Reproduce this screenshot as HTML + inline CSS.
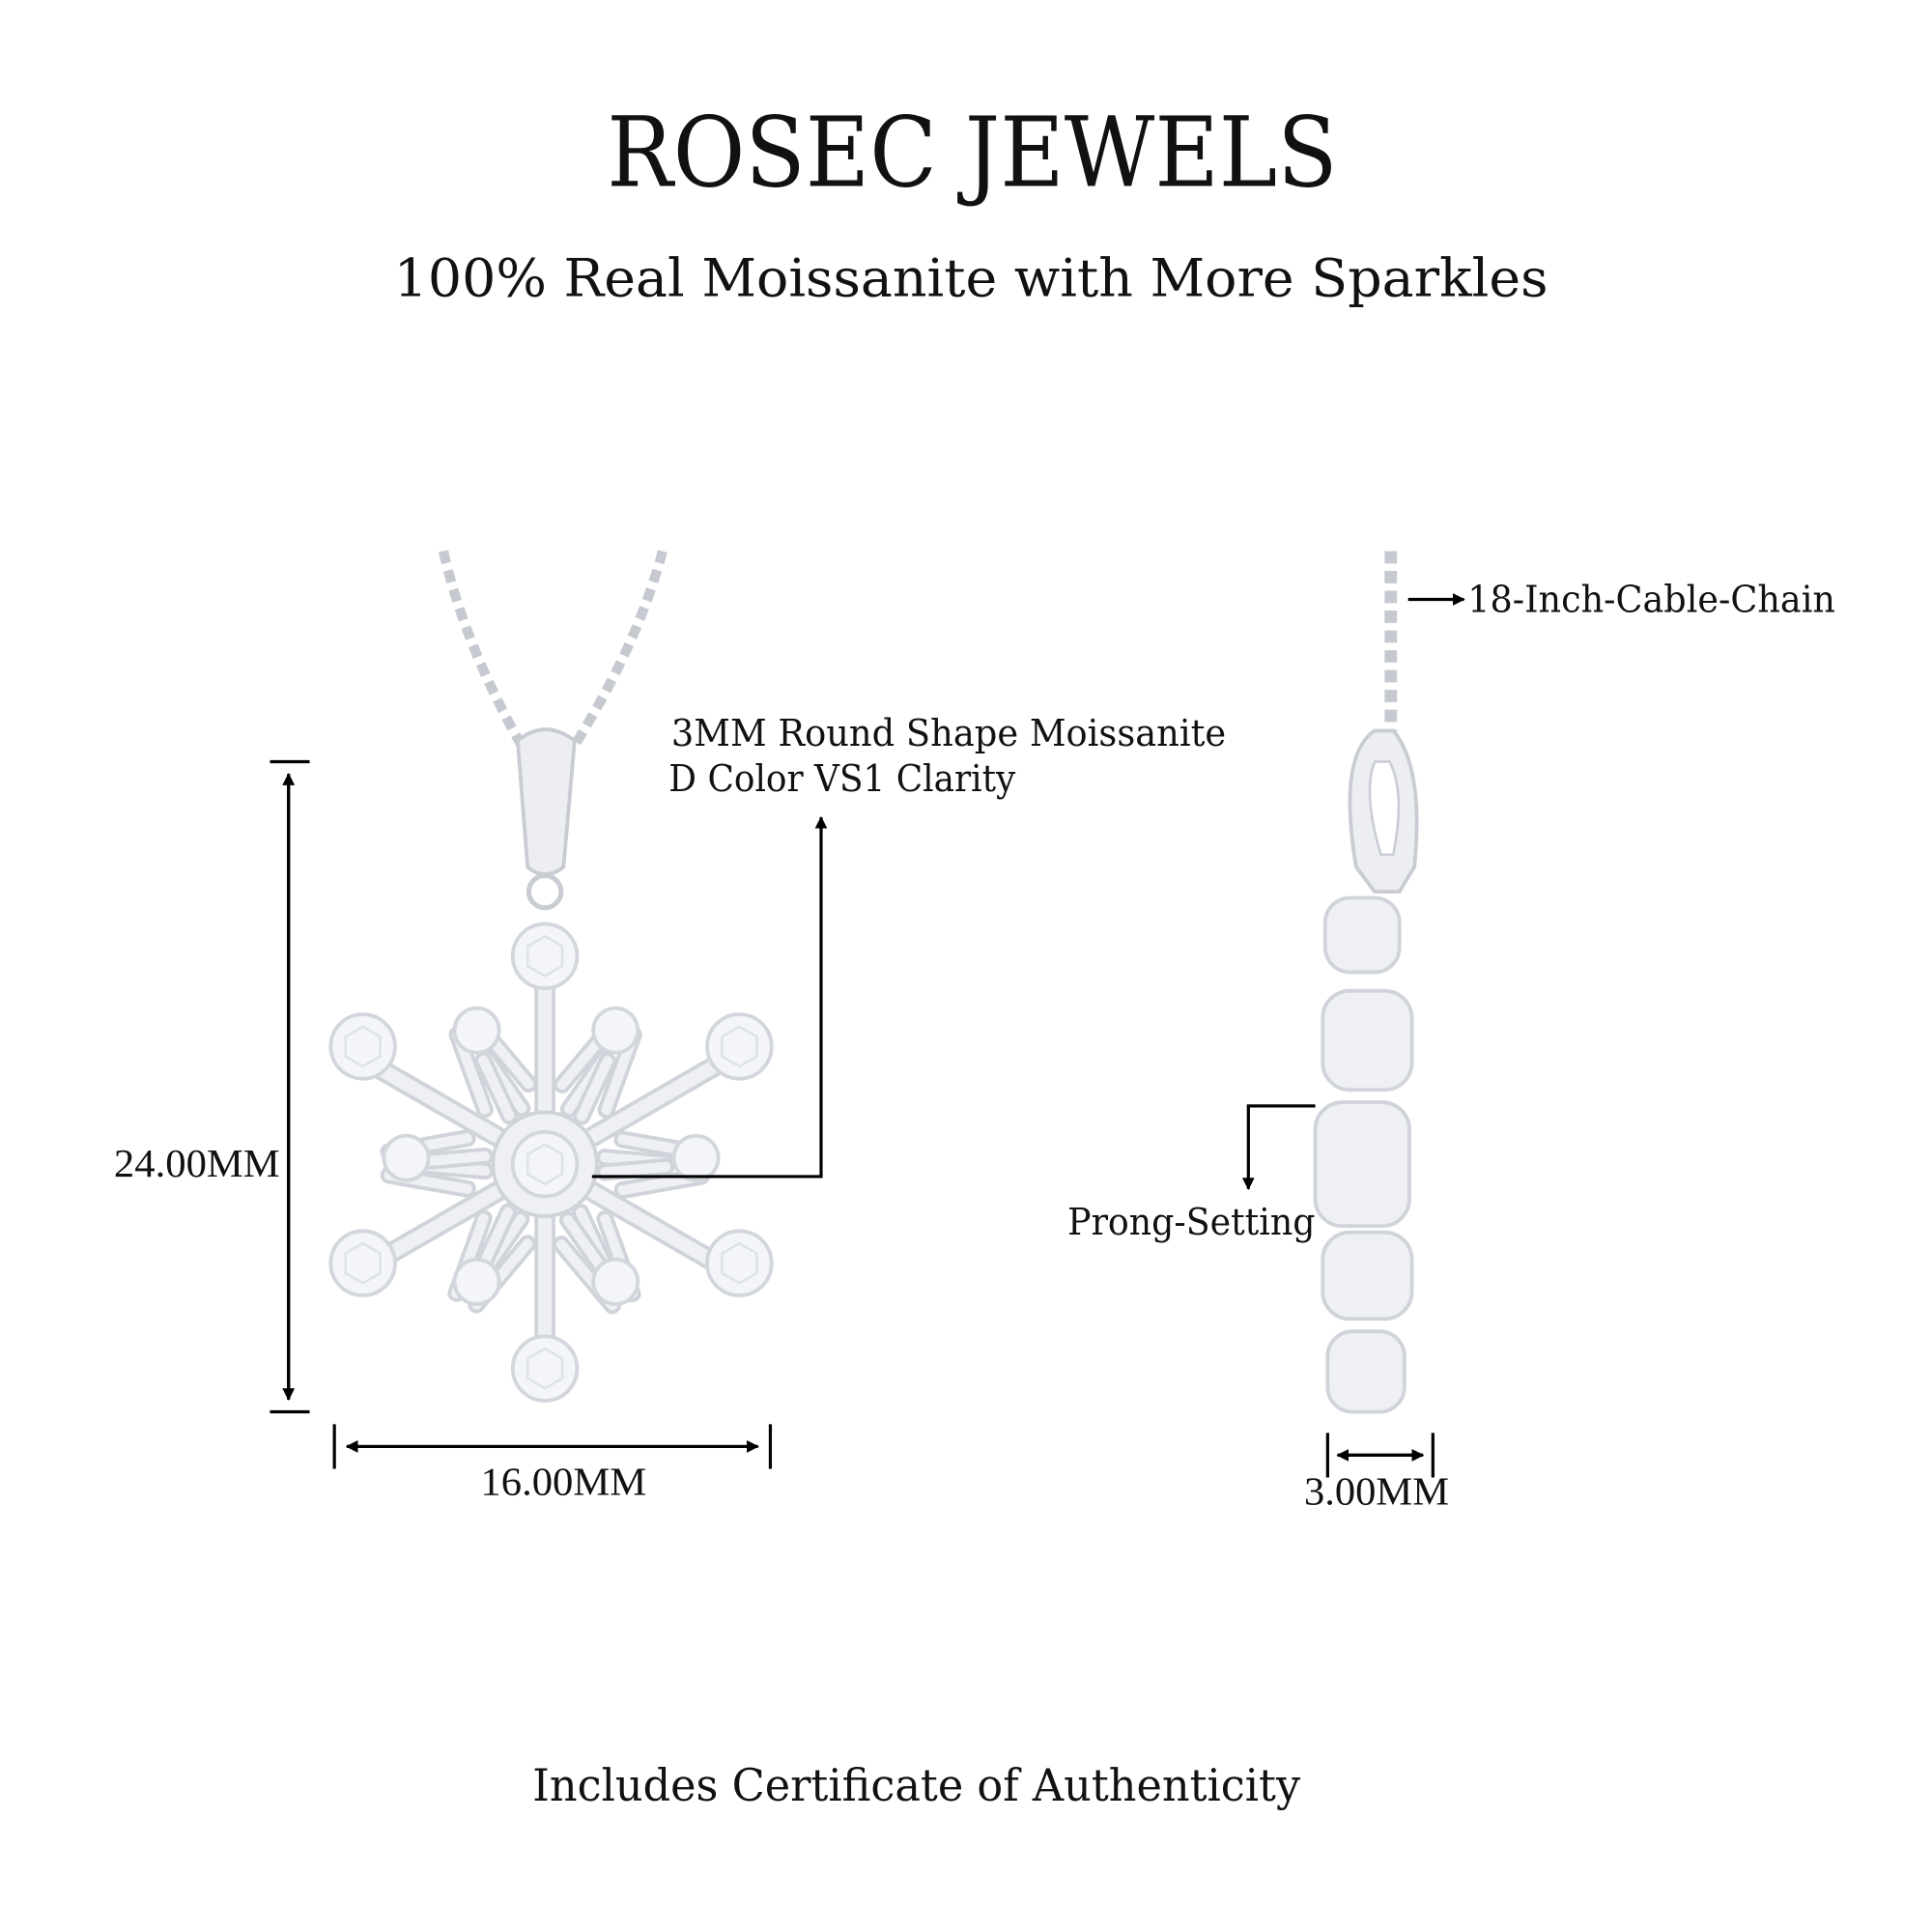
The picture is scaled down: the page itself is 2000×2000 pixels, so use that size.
<!DOCTYPE html>
<html><head><style>html,body{margin:0;padding:0;background:#fff}svg{display:block}</style></head><body>
<svg width="2000" height="2000" viewBox="0 0 1560 1560" xmlns="http://www.w3.org/2000/svg" font-family="'DejaVu Serif', 'Liberation Serif', serif">
<rect width="1560" height="1560" fill="#fff"/>
<defs>
<marker id="ah" markerWidth="10" markerHeight="10" refX="9" refY="5" orient="auto" markerUnits="userSpaceOnUse"><path d="M0,0 L10,5 L0,10 z" fill="#000"/></marker>
<g id="gem"><circle r="26" fill="#f3f5f8" stroke="#d3d7dd" stroke-width="3"/><path d="M-14,-8 L0,-16 L14,-8 L14,8 L0,16 L-14,8 z" fill="none" stroke="#dfe3e8" stroke-width="2"/></g>
<g id="sgem"><circle r="18" fill="#f3f5f8" stroke="#d3d7dd" stroke-width="3"/></g>
</defs>
<text x="785" y="150" font-size="78" text-anchor="middle" textLength="590" lengthAdjust="spacingAndGlyphs" fill="#111">ROSEC JEWELS</text>
<text x="784" y="239" font-size="42" text-anchor="middle" textLength="932" lengthAdjust="spacingAndGlyphs" fill="#111">100% Real Moissanite with More Sparkles</text>

<g fill="none" stroke="#c6cad0" stroke-width="3">
<path d="M358,445 Q375,520 420,600" stroke-dasharray="10 6" stroke-width="8"/>
<path d="M535,445 Q515,520 465,600" stroke-dasharray="10 6" stroke-width="8"/>
<path d="M1123,445 L1123,625" stroke-dasharray="10 6" stroke-width="10"/>
</g>
<path d="M418,598 Q440,580 464,598 L455,700 Q440,712 426,700 Z" fill="#eceef1" stroke="#c9cdd3" stroke-width="3"/>
<circle cx="440" cy="720" r="13" fill="none" stroke="#c9cdd3" stroke-width="4"/>
<g transform="translate(440,940)" stroke="#d0d4da" fill="#eef0f3">
<g id="arm">
<rect x="-7" y="-170" width="14" height="130" rx="5" stroke-width="3"/>
<rect x="-5" y="-150" width="11" height="75" rx="5" transform="rotate(-40 0 -95) translate(-30,0)" stroke-width="3"/>
<rect x="-5" y="-150" width="11" height="75" rx="5" transform="rotate(40 0 -95) translate(30,0)" stroke-width="3"/>
<rect x="-5" y="-115" width="11" height="60" rx="5" transform="rotate(-35 0 -70) translate(-30,0)" stroke-width="3"/>
<rect x="-5" y="-115" width="11" height="60" rx="5" transform="rotate(35 0 -70) translate(30,0)" stroke-width="3"/>
</g>
<use href="#arm" transform="rotate(60)"/><use href="#arm" transform="rotate(120)"/><use href="#arm" transform="rotate(180)"/><use href="#arm" transform="rotate(240)"/><use href="#arm" transform="rotate(300)"/>
<circle r="42" stroke-width="3"/>
</g>
<use href="#gem" x="440" y="940"/>
<use href="#gem" x="440" y="772"/><use href="#gem" x="440" y="1105"/>
<use href="#gem" x="293" y="845"/><use href="#gem" x="597" y="845"/>
<use href="#gem" x="293" y="1020"/><use href="#gem" x="597" y="1020"/>
<use href="#sgem" x="385" y="832"/><use href="#sgem" x="497" y="832"/>
<use href="#sgem" x="328" y="935"/><use href="#sgem" x="562" y="935"/>
<use href="#sgem" x="385" y="1035"/><use href="#sgem" x="497" y="1035"/>

<path d="M1110,590 Q1080,610 1095,700 L1110,720 L1130,720 L1142,700 Q1150,620 1125,590 Z" fill="#eceef1" stroke="#c9cdd3" stroke-width="3"/>
<path d="M1110,615 Q1100,640 1115,690 L1125,690 Q1135,640 1122,615 Z" fill="#fff" stroke="#c9cdd3" stroke-width="2"/>
<g fill="#eef0f3" stroke="#d0d4da" stroke-width="3">
<rect x="1070" y="725" width="60" height="60" rx="20"/>
<rect x="1068" y="800" width="72" height="80" rx="22"/>
<rect x="1062" y="890" width="76" height="100" rx="22"/>
<rect x="1068" y="995" width="72" height="70" rx="22"/>
<rect x="1072" y="1075" width="62" height="65" rx="20"/>
</g>

<g stroke="#000" stroke-width="2.5" fill="none">
<line x1="218" y1="615" x2="250" y2="615"/><line x1="218" y1="1140" x2="250" y2="1140"/>
<line x1="233" y1="1130" x2="233" y2="625" marker-end="url(#ah)"/>
<line x1="233" y1="625" x2="233" y2="1130" marker-end="url(#ah)"/>
<line x1="270" y1="1150" x2="270" y2="1186"/><line x1="622" y1="1150" x2="622" y2="1186"/>
<line x1="280" y1="1168" x2="612" y2="1168" marker-end="url(#ah)"/>
<line x1="612" y1="1168" x2="280" y2="1168" marker-end="url(#ah)"/>
<polyline points="478,950 663,950 663,660" marker-end="url(#ah)"/>
<line x1="1137" y1="484" x2="1182" y2="484" marker-end="url(#ah)"/>
<polyline points="1062,893 1008,893 1008,960" marker-end="url(#ah)"/>
<line x1="1072" y1="1157" x2="1072" y2="1193"/><line x1="1157" y1="1157" x2="1157" y2="1193"/>
<line x1="1080" y1="1175" x2="1149" y2="1175" marker-end="url(#ah)"/>
<line x1="1149" y1="1175" x2="1080" y2="1175" marker-end="url(#ah)"/>
</g>
<g fill="#111" font-size="30">
<text x="92" y="950" font-family="'Liberation Serif', serif" font-size="32" textLength="134" lengthAdjust="spacingAndGlyphs">24.00MM</text>
<text x="388" y="1207" font-family="'Liberation Serif', serif" font-size="32" textLength="134" lengthAdjust="spacingAndGlyphs">16.00MM</text>
<text x="542" y="602" textLength="448" lengthAdjust="spacingAndGlyphs">3MM Round Shape Moissanite</text>
<text x="540" y="639" textLength="280" lengthAdjust="spacingAndGlyphs">D Color VS1 Clarity</text>
<text x="1185" y="494" textLength="297" lengthAdjust="spacingAndGlyphs">18-Inch-Cable-Chain</text>
<text x="862" y="997" textLength="200" lengthAdjust="spacingAndGlyphs">Prong-Setting</text>
<text x="1053" y="1215" font-family="'Liberation Serif', serif" font-size="32" textLength="117" lengthAdjust="spacingAndGlyphs">3.00MM</text>
<text x="430" y="1454" font-size="36" textLength="620" lengthAdjust="spacingAndGlyphs">Includes Certificate of Authenticity</text>
</g>
</svg>
</body></html>
